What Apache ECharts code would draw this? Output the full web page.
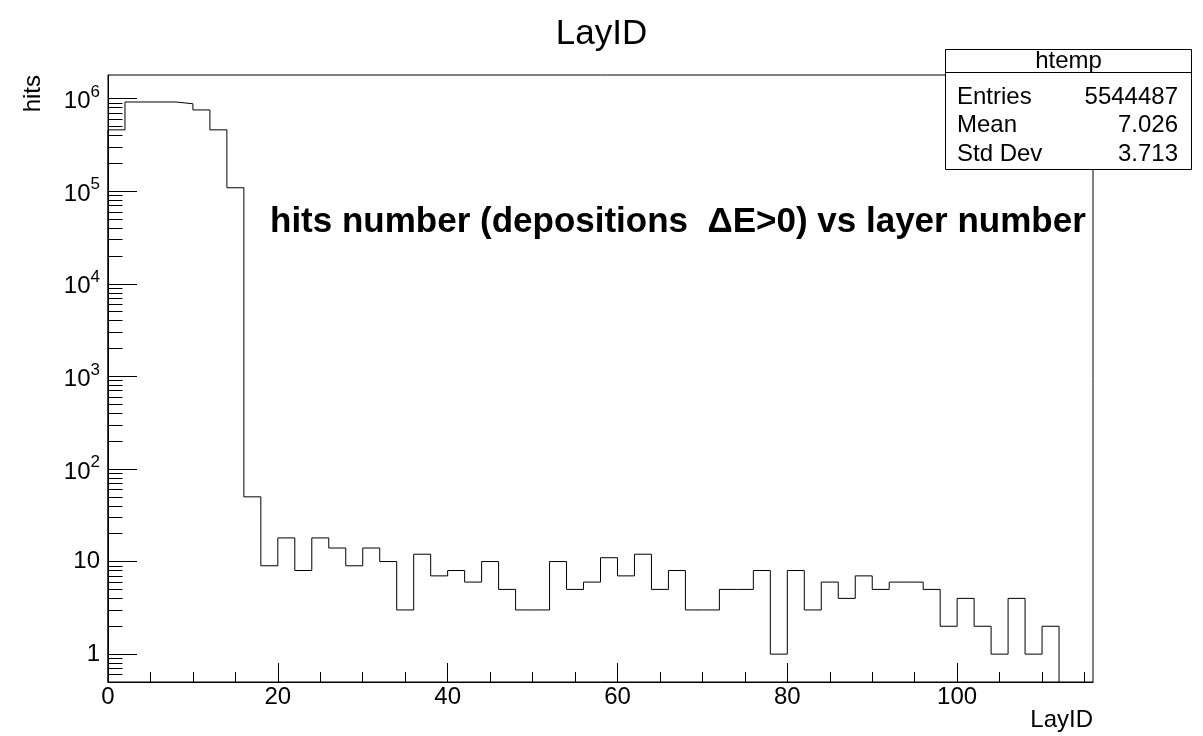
<!DOCTYPE html>
<html>
<head>
<meta charset="utf-8">
<title>LayID</title>
<script src="https://cdn.jsdelivr.net/npm/echarts@6/dist/echarts.min.js"></script>
<style>
  html, body { margin: 0; padding: 0; background: #fff; }
  #chart { width: 1203px; height: 736px; }
</style>
</head>
<body>
<div id="chart"></div>
<script>
// Lower edges of the LayID bins (bin width 2)
const BIN_LOW = [
  0, 2, 4, 6, 8, 10, 12, 14, 16, 18,
  20, 22, 24, 26, 28, 30, 32, 34, 36, 38,
  40, 42, 44, 46, 48, 50, 52, 54, 56, 58,
  60, 62, 64, 66, 68, 70, 72, 74, 76, 78,
  80, 82, 84, 86, 88, 90, 92, 94, 96, 98,
  100, 102, 104, 106, 108, 110
];
const BIN_WIDTH = 2;

// Hits per bin
const HITS = [
  460000, 920000, 920000, 920000, 880000, 755000, 460000, 109000, 50, 9,
  18, 8, 18, 14, 9, 14, 10, 3, 12, 7,
  8, 6, 10, 5, 3, 3, 10, 5, 6, 11,
  7, 12, 5, 8, 3, 3, 5, 5, 8, 1,
  8, 3, 6, 4, 7, 5, 6, 6, 5, 2,
  4, 2, 1, 4, 1, 2
];

// Axis ranges and ticks
const X_MIN = 0, X_MAX = 116;
const X_MAJOR = [0, 20, 40, 60, 80, 100];
const X_MINOR = [5, 10, 15, 25, 30, 35, 45, 50, 55, 65, 70, 75, 85, 90, 95, 105, 110, 115];
const Y_MIN = 0.5, Y_MAX = 1.8e6;
const Y_MAJOR = [1, 10, 100, 1000, 10000, 100000, 1000000];
const Y_MINOR = [
  0.6, 0.7, 0.8, 0.9,
  2, 3, 4, 5, 6, 7, 8, 9,
  20, 30, 40, 50, 60, 70, 80, 90,
  200, 300, 400, 500, 600, 700, 800, 900,
  2000, 3000, 4000, 5000, 6000, 7000, 8000, 9000,
  20000, 30000, 40000, 50000, 60000, 70000, 80000, 90000,
  200000, 300000, 400000, 500000, 600000, 700000, 800000, 900000
];

// Statistics box contents
const STATS_NAME = 'htemp';
const STATS_ROWS = [
  ['Entries', '5544487'],
  ['Mean', '7.026'],
  ['Std Dev', '3.713']
];

const FONT = '"Liberation Sans", Arial, Helvetica, sans-serif';

// Histogram outline as a step line through the bin edges
const outline = [[BIN_LOW[0], Y_MIN]];
for (let i = 0; i < HITS.length; i++) outline.push([BIN_LOW[i], HITS[i]]);
const lastEdge = BIN_LOW[BIN_LOW.length - 1] + BIN_WIDTH;
outline.push([lastEdge, HITS[HITS.length - 1]]);
outline.push([lastEdge, Y_MIN]);

function yLabel(v) {
  const e = Math.round(Math.log10(v));
  if (e === 0) return '1';
  if (e === 1) return '10';
  return '{b|10}{s|' + e + '}';
}

// Stats box drawn over the frame
const BOX = { x: 945.5, y: 49.5, w: 246, h: 120, head: 23 };
const statsChildren = [
  { type: 'rect', shape: { x: BOX.x, y: BOX.y, width: BOX.w, height: BOX.h },
    style: { fill: '#fff', stroke: '#000', lineWidth: 1 } },
  { type: 'line', shape: { x1: BOX.x, y1: BOX.y + BOX.head, x2: BOX.x + BOX.w, y2: BOX.y + BOX.head },
    style: { stroke: '#000', lineWidth: 1 } },
  { type: 'text', x: BOX.x + BOX.w / 2, y: BOX.y + 12,
    style: { text: STATS_NAME, font: '24px ' + FONT, fill: '#000', align: 'center', verticalAlign: 'middle' } }
];
STATS_ROWS.forEach(function (row, i) {
  const cy = 97.5 + i * 28.2;
  statsChildren.push({ type: 'text', x: 957, y: cy,
    style: { text: row[0], font: '24px ' + FONT, fill: '#000', align: 'left', verticalAlign: 'middle' } });
  statsChildren.push({ type: 'text', x: 1178, y: cy,
    style: { text: row[1], font: '24px ' + FONT, fill: '#000', align: 'right', verticalAlign: 'middle' } });
});

const chart = echarts.init(document.getElementById('chart'), null, { renderer: 'canvas' });

chart.setOption({
  animation: false,
  backgroundColor: '#fff',
  textStyle: { fontFamily: FONT },
  title: {
    text: 'LayID',
    left: 'center',
    top: 12,
    textStyle: { fontFamily: FONT, fontSize: 35, fontWeight: 'normal', color: '#000' }
  },
  grid: {
    left: 108, top: 75, right: 110, bottom: 54,
    show: true, borderColor: '#000', borderWidth: 1, backgroundColor: 'transparent'
  },
  xAxis: [
    {
      type: 'value', min: X_MIN, max: X_MAX, position: 'bottom',
      axisLine: { show: true, onZero: false, lineStyle: { color: '#000', width: 1 } },
      axisTick: { show: true, inside: true, length: 19, customValues: X_MAJOR, lineStyle: { color: '#000' } },
      axisLabel: { customValues: X_MAJOR, margin: 3, fontSize: 24, color: '#000', fontFamily: FONT },
      splitLine: { show: false }
    },
    {
      type: 'value', min: X_MIN, max: X_MAX, position: 'bottom', offset: 0,
      axisLine: { show: false },
      axisTick: { show: true, inside: true, length: 10, customValues: X_MINOR, lineStyle: { color: '#000' } },
      axisLabel: { show: false },
      splitLine: { show: false }
    }
  ],
  yAxis: [
    {
      type: 'log', logBase: 10, min: Y_MIN, max: Y_MAX, position: 'left',
      axisLine: { show: true, onZero: false, lineStyle: { color: '#000', width: 1 } },
      axisTick: { show: true, inside: true, length: 29, customValues: Y_MAJOR, lineStyle: { color: '#000' } },
      axisLabel: {
        customValues: Y_MAJOR, margin: 8, fontSize: 24, color: '#000', fontFamily: FONT,
        formatter: yLabel,
        rich: {
          b: { fontSize: 24, fontFamily: FONT, color: '#000', verticalAlign: 'bottom', padding: [6, 0, 0, 0] },
          s: { fontSize: 17, fontFamily: FONT, color: '#000', verticalAlign: 'top' }
        }
      },
      splitLine: { show: false }
    },
    {
      type: 'log', logBase: 10, min: Y_MIN, max: Y_MAX, position: 'left', offset: 0,
      axisLine: { show: false },
      axisTick: { show: true, inside: true, length: 14.5, customValues: Y_MINOR, lineStyle: { color: '#000' } },
      axisLabel: { show: false },
      splitLine: { show: false }
    }
  ],
  series: [
    {
      type: 'line',
      xAxisIndex: 0,
      yAxisIndex: 0,
      data: outline,
      step: 'end',
      showSymbol: false,
      symbol: 'none',
      clip: true,
      lineStyle: { color: '#000', width: 1 },
      silent: true
    }
  ],
  graphic: [
    {
      type: 'text', x: 33, y: 75, rotation: Math.PI / 2, z: 50,
      style: { text: 'hits', font: '24px ' + FONT, fill: '#000', align: 'right', verticalAlign: 'middle' }
    },
    {
      type: 'text', x: 1093, y: 720, z: 50,
      style: { text: 'LayID', font: '24px ' + FONT, fill: '#000', align: 'right', verticalAlign: 'middle' }
    },
    {
      type: 'text', x: 270, y: 222, z: 50,
      style: { text: 'hits number (depositions  \u0394E>0) vs layer number', font: 'bold 35px ' + FONT,
               fill: '#000', align: 'left', verticalAlign: 'middle' }
    },
    { type: 'group', z: 100, children: statsChildren }
  ]
});
</script>
</body>
</html>
